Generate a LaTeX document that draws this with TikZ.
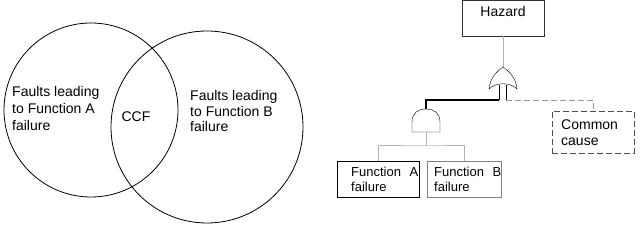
\documentclass[tikz,border=0pt]{standalone}
\usepackage{fontspec}
\setmainfont{Liberation Sans}
\usepackage{tikz}

\begin{document}
\begin{tikzpicture}[x=1pt, y=-1pt, font=\fontsize{14}{17}\selectfont,
  box/.style={draw, align=left, inner ysep=0pt, anchor=north west},
  lead/.style={draw=gray!60}]
  \useasboundingbox (0,0) rectangle (640,237);
  \draw[line width=0.8pt] (91,110) circle[radius=87];
  \draw[line width=0.8pt] (207,127) circle[radius=96];
  \node[anchor=west, align=left, inner sep=0pt] (faultsA) at (12,108) {Faults leading\\to Function A\\failure};
  \node[anchor=west, align=left, inner sep=0pt, font=\fontsize{14}{16}\selectfont] (faultsB) at (190,111) {Faults leading\\to Function B\\failure};
  \node[inner sep=0pt] (ccf) at (136,117) {CCF};
  \node[draw=black!80, minimum width=82pt, minimum height=36pt, text height=10pt, text depth=12pt] (hazard) at (503,18) {Hazard};
  \node[box, text width=54pt, inner xsep=14pt, minimum height=36pt, font=\fontsize{13}{15}\selectfont] (funcA) at (337,161) {Function~~A\\failure};
  \node[box, draw=gray, text width=60pt, inner xsep=7pt, minimum height=36pt, font=\fontsize{13}{15}\selectfont] (funcB) at (427,161) {Function~~B\\failure};
  \node[box, draw=black!70, dash pattern=on 6pt off 3pt, text width=64pt, inner xsep=9pt, minimum height=42pt, font=\fontsize{14}{16}\selectfont] (common) at (552,111) {Common\\cause};
  \coordinate (orTop) at (503,67);
  \coordinate (orA) at (499,100);
  \coordinate (orB) at (506,100);
  \coordinate (andTop) at (426,109);
  \coordinate (andOut) at (426,132);
  \coordinate (split) at (426,145);
  \draw (489,89) .. controls (490,78) and (497,71) .. (orTop) .. controls (509,71) and (516,78) .. (517,89) .. controls (510,82) and (496,82) .. (489,89);
  \draw (499,85) -- (orA);
  \draw (506,85) -- (orB);
  \draw (412,132) -- (412,122) .. controls (412,113) and (418,109) .. (andTop) .. controls (434,109) and (440,113) .. (440,122) -- (440,132) -- cycle;
  \draw[lead] (hazard.south) -- (orTop);
  \draw[line width=1.5pt] (orA) -| (andTop);
  \draw[draw=gray!80, dash pattern=on 6pt off 3pt] (orB) -| (common.north);
  \draw[lead] (andOut) -- (split);
  \draw[lead] (funcA.north) |- (split) -| (funcB.north);
\end{tikzpicture}
\end{document}
